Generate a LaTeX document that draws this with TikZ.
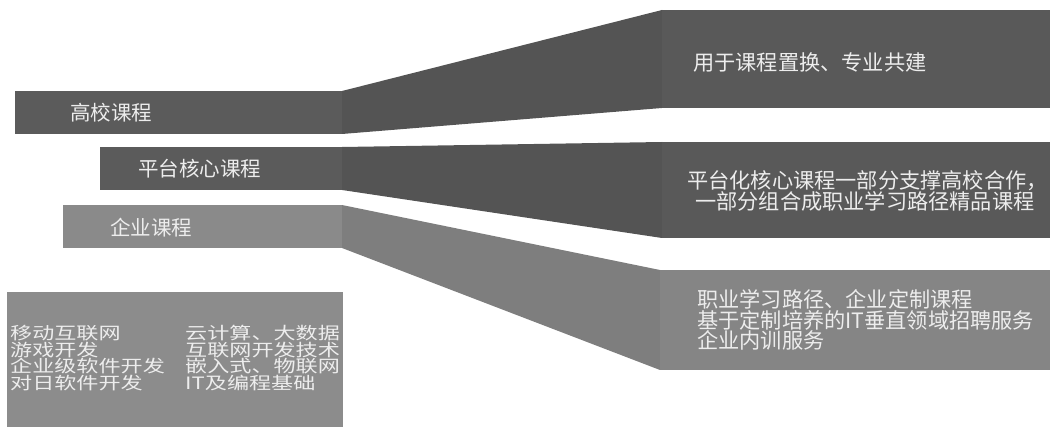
\documentclass[tikz,border=0pt]{standalone}
\usepackage{fontspec}
\newfontfamily\cjk{Noto Sans CJK SC}
\newfontfamily\cjkwide[FakeStretch=1.3]{Noto Sans CJK SC}
\definecolor{bandA}{HTML}{5B5B5B}
\definecolor{bandAt}{HTML}{545454}
\definecolor{bandAr}{HTML}{595959}
\definecolor{bandC}{HTML}{8A8A8A}
\definecolor{bandCt}{HTML}{7E7E7E}
\definecolor{bandCr}{HTML}{858585}
\definecolor{boxgray}{HTML}{8C8C8C}
\definecolor{txt}{HTML}{EDEDED}
\tikzset{
  lbl/.style={font=\cjk\fontsize{20.5}{20.5}\selectfont, text=txt, anchor=west, inner sep=0pt},
  rlbl/.style={font=\cjk\fontsize{21.2}{21.2}\selectfont, text=txt, anchor=west, inner sep=0pt},
  rtxt/.style={font=\cjk\fontsize{21.2}{19.5}\selectfont, text=txt, anchor=west, inner sep=0pt, align=left},
  boxtxt/.style={font=\cjkwide\fontsize{17}{16.8}\selectfont, text=txt, anchor=west, inner sep=0pt, align=left}
}
\begin{document}
\begin{tikzpicture}[x=1pt,y=-1pt]
\useasboundingbox (0,0) rectangle (1050,427);
% band 1
\fill[bandA] (15,91) rectangle (342,134);
\fill[bandAt] (342,91) -- (662,10) -- (662,108) -- (342,134) -- cycle;
\fill[bandAr] (662,10) rectangle (1050,108);
% band 2
\fill[bandA] (100,147) rectangle (342,190);
\fill[bandAt] (342,147) -- (662,142) -- (662,238) -- (342,190) -- cycle;
\fill[bandAr] (662,142) rectangle (1050,238);
% band 3
\fill[bandC] (63,205) rectangle (342,248);
\fill[bandCt] (342,205) -- (660,270) -- (660,370) -- (342,248) -- cycle;
\fill[bandCr] (660,270) rectangle (1050,370);
% box
\fill[boxgray] (7,292) rectangle (343,427);

\node[lbl] (gx) at (70,113) {高校课程};
\node[lbl] (pt) at (138,169) {平台核心课程};
\node[lbl] (qy) at (110,228) {企业课程};

\node[rlbl] (r1) at (693,62) {用于课程置换、专业共建};
\node[rlbl] (r2a) at (687,181) {平台化核心课程一部分支撑高校合作，};
\node[rlbl] (r2b) at (695,201) {一部分组合成职业学习路径精品课程};
\node[rtxt] (r3) at (697,320) {职业学习路径、企业定制课程\\基于定制培养的IT垂直领域招聘服务\\企业内训服务};

\node[boxtxt] (bl) at (10,358) {移动互联网\\游戏开发\\企业级软件开发\\对日软件开发};
\node[boxtxt] (br) at (185,358) {云计算、大数据\\互联网开发技术\\嵌入式、物联网\\IT及编程基础};
\end{tikzpicture}
\end{document}
